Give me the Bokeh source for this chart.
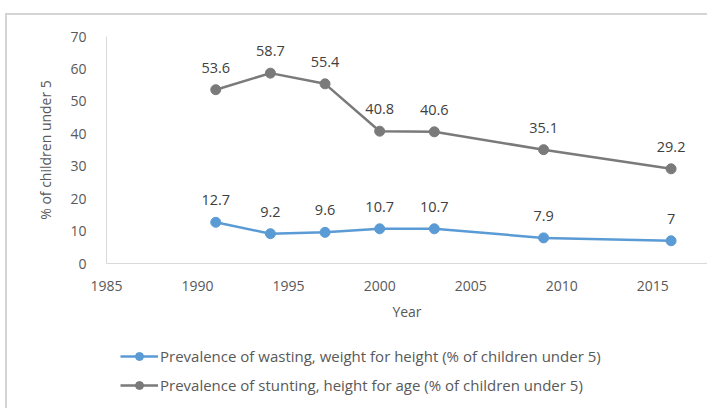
from bokeh.plotting import figure
from bokeh.layouts import column
from bokeh.models import Range1d, FixedTicker, Legend, LegendItem, ColumnDataSource
from bokeh.core.properties import value
from bokeh.embed import file_html
from bokeh.resources import INLINE

years = [1991, 1994, 1997, 2000, 2003, 2009, 2016]
wasting = [12.7, 9.2, 9.6, 10.7, 10.7, 7.9, 7.0]
stunting = [53.6, 58.7, 55.4, 40.8, 40.6, 35.1, 29.2]
wasting_labels = ["12.7", "9.2", "9.6", "10.7", "10.7", "7.9", "7"]
stunting_labels = ["53.6", "58.7", "55.4", "40.8", "40.6", "35.1", "29.2"]
x_ticks = [1985, 1990, 1995, 2000, 2005, 2010, 2015]
y_ticks = [0, 10, 20, 30, 40, 50, 60, 70]
name_wasting = "Prevalence of wasting, weight for height (% of children under 5)"
name_stunting = "Prevalence of stunting, height for age (% of children under 5)"

FONT = "Open Sans"
FS = "14px"
FS_LEG = "15px"
TXT = "#595959"
BLUE = "#5b9bd5"
GREY = "#7a7a7a"

p = figure(width=700, height=315, output_backend="svg", toolbar_location=None,
           x_range=Range1d(1985, 2018.0), y_range=Range1d(0, 70),
           min_border_left=99, min_border_right=0, min_border_top=21, min_border_bottom=67)
p.outline_line_color = None
p.xgrid.visible = False
p.ygrid.visible = False

for ax in (p.xaxis[0], p.yaxis[0]):
    ax.axis_line_color = "#d9d9d9"
    ax.axis_line_width = 1
    ax.major_tick_line_color = None
    ax.minor_tick_line_color = None
    ax.major_label_text_font = FONT
    ax.major_label_text_font_size = FS
    ax.major_label_text_color = TXT
    ax.axis_label_text_font = FONT
    ax.axis_label_text_font_size = FS
    ax.axis_label_text_color = TXT
    ax.axis_label_text_font_style = "normal"

p.xaxis.ticker = FixedTicker(ticks=x_ticks)
p.yaxis.ticker = FixedTicker(ticks=y_ticks)
p.xaxis.axis_label = "Year"
p.yaxis.axis_label = "% of children under 5"
p.xaxis.major_label_standoff = 11
p.xaxis.axis_label_standoff = 8
p.yaxis.major_label_standoff = 14
p.yaxis.axis_label_standoff = 12

src_w = ColumnDataSource(dict(x=years, y=wasting, t=wasting_labels))
src_s = ColumnDataSource(dict(x=years, y=stunting, t=stunting_labels))

p.line("x", "y", source=src_w, line_color=BLUE, line_width=2.5)
p.scatter("x", "y", source=src_w, size=10, fill_color=BLUE, line_color=BLUE)
p.line("x", "y", source=src_s, line_color=GREY, line_width=2.5)
p.scatter("x", "y", source=src_s, size=10, fill_color=GREY, line_color=GREY)

for src in (src_w, src_s):
    p.text("x", "y", text="t", source=src, text_font=value(FONT), text_font_size="14.5px",
           text_color="#404040", text_align="center", text_baseline="middle", y_offset=-22)

# legend panel below the chart (its sample renderers sit outside the visible range)
q = figure(width=700, height=78, output_backend="svg", toolbar_location=None,
           x_range=Range1d(0, 1), y_range=Range1d(0, 1),
           min_border_left=99, min_border_right=0, min_border_top=0, min_border_bottom=0)
q.axis.visible = False
q.grid.visible = False
q.outline_line_color = None
hidden = ColumnDataSource(dict(x=[-10, -9], y=[-10, -9]))
lw = q.line("x", "y", source=hidden, line_color=BLUE, line_width=2.5)
cw = q.scatter("x", "y", source=hidden, size=10, fill_color=BLUE, line_color=BLUE)
ls = q.line("x", "y", source=hidden, line_color=GREY, line_width=2.5)
cs = q.scatter("x", "y", source=hidden, size=10, fill_color=GREY, line_color=GREY)

legend = Legend(items=[LegendItem(label=name_wasting, renderers=[lw, cw]),
                       LegendItem(label=name_stunting, renderers=[ls, cs])],
                location=(14, 13), orientation="vertical")
legend.border_line_alpha = 0
legend.background_fill_alpha = 0
legend.label_text_font = FONT
legend.label_text_font_size = FS_LEG
legend.label_text_color = TXT
legend.glyph_width = 38
legend.glyph_height = 20
legend.label_height = 20
legend.label_standoff = 2
legend.spacing = 9
legend.padding = 0
legend.margin = 0
q.add_layout(legend, "center")

layout = column(p, q, spacing=0)
layout.margin = (13, 0, 0, 5)
layout.styles = {"border-left": "2px solid #d4d4d4", "border-top": "2px solid #d4d4d4"}
open("out.html", "w").write(file_html(layout, INLINE))
